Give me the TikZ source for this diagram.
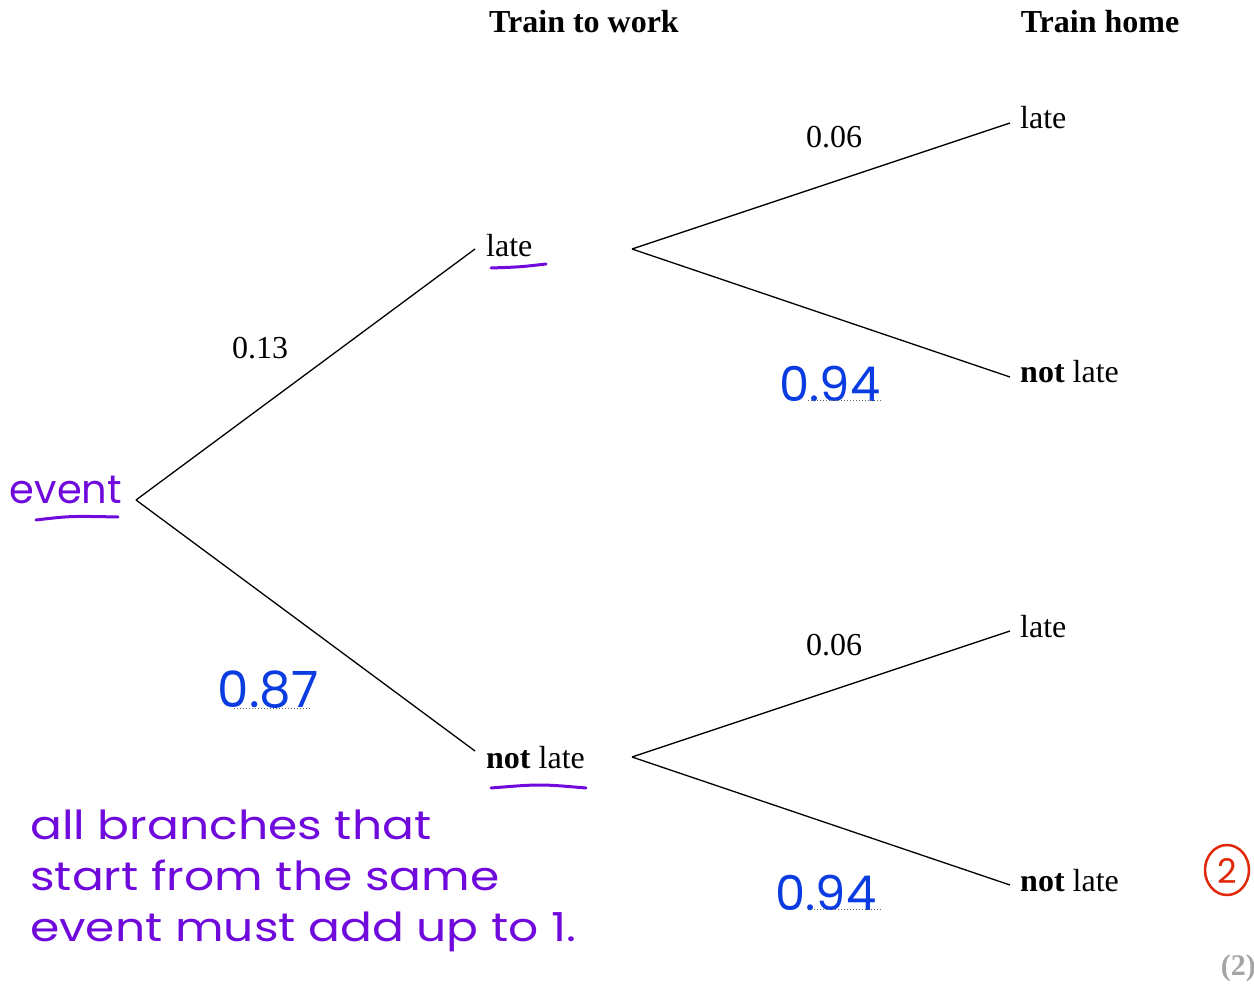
\documentclass[tikz,border=0pt]{standalone}
\usepackage{fontspec}
\setmainfont{Liberation Serif}
\newfontfamily\handfont{Poppins}
\newfontfamily\notefont[FakeStretch=1.18]{Poppins}
\usepackage{tikz}
\usetikzlibrary{positioning}
\definecolor{inkpurple}{RGB}{112, 10, 220}
\definecolor{inkblue}{RGB}{10, 60, 225}
\definecolor{inkred}{RGB}{225, 40, 10}
\definecolor{markgray}{RGB}{165, 165, 165}

\begin{document}
\begin{tikzpicture}[x=1pt, y=-1pt, font=\fontsize{32}{38}\selectfont,
  branch/.style={line width=1.3pt},
  outcome/.style={anchor=west, inner xsep=11pt, inner ysep=0pt, text height=24pt, text depth=12pt},
  prob/.style={inner sep=0pt},
  hand/.style={inner sep=0pt, font=\handfont\fontsize{#1}{#1}\selectfont},
  uline/.style={inkpurple, line width=3pt, line cap=round},
  dots/.style={dotted, black!60, line width=1pt}]
  \useasboundingbox (0,0) rectangle (1254,984);

  % headings
  \node[font=\fontsize{32}{38}\selectfont\bfseries] (hdwork) at (584,22) {Train to work};
  \node[font=\fontsize{32}{38}\selectfont\bfseries] (hdhome) at (1100,22) {Train home};

  % first branch
  \coordinate (root) at (136,500);
  \node[outcome, text height=28pt] (late1) at (475,249) {late};
  \node[outcome, anchor=north west, text height=17pt] (notlate1) at (475,751) {\textbf{not} late};
  \draw[branch] (root) -- (late1.west);
  \draw[branch] (root) -- (notlate1.north west);
  \node[prob] (p13) at (260,348) {0.13};

  % second branch, after late
  \coordinate (forkA) at (632,249);
  \node[outcome, inner xsep=10pt] (lateA) at (1010,123) {late};
  \node[outcome, inner xsep=10pt] (notlateA) at (1010,377) {\textbf{not} late};
  \draw[branch] (forkA) -- (lateA.west);
  \draw[branch] (forkA) -- (notlateA.west);
  \node[prob] (p06a) at (834,137) {0.06};

  % second branch, after not late
  \coordinate (forkB) at (632,757);
  \node[outcome, inner xsep=10pt] (lateB) at (1010,631) {late};
  \node[outcome, inner xsep=10pt] (notlateB) at (1010,885) {\textbf{not} late};
  \draw[branch] (forkB) -- (lateB.west);
  \draw[branch] (forkB) -- (notlateB.west);
  \node[prob] (p06b) at (834,645) {0.06};

  % written answers
  \node[hand=48, text=inkblue] (ans94a) at (830,384) {0.94};
  \draw[dots] (808,401) -- (882,401);
  \node[hand=48, text=inkblue] (ans94b) at (826,893) {0.94};
  \draw[dots] (808,909) -- (882,909);
  \node[hand=50, text=inkblue] (ans87) at (268,690) {0.87};
  \draw[dots] (234,708) -- (310,708);

  % notes in purple
  \node[hand=40, text=inkpurple] (evt) at (66,490) {event};
  \draw[uline] (36,520) .. controls (70,516) .. (118,517);
  \draw[uline] (491,268) .. controls (520,267) .. (546,264);
  \draw[uline] (491,788) .. controls (540,784) .. (586,788);
  \node[inner sep=0pt, text=inkpurple, anchor=north west, align=left,
        font=\notefont\fontsize{40}{51}\selectfont] (rule) at (30,810)
        {all branches that\\start from the same\\event must add up to 1.};

  % marks
  \draw[inkred, line width=2.5pt] (1227,870) ellipse (22 and 25);
  \node[hand=34, text=inkred] (mark) at (1227,871) {2};
  \node[anchor=east, inner sep=0pt, text=markgray,
        font=\fontsize{30}{34}\selectfont\bfseries] (total) at (1256,968) {(2)};
\end{tikzpicture}
\end{document}
